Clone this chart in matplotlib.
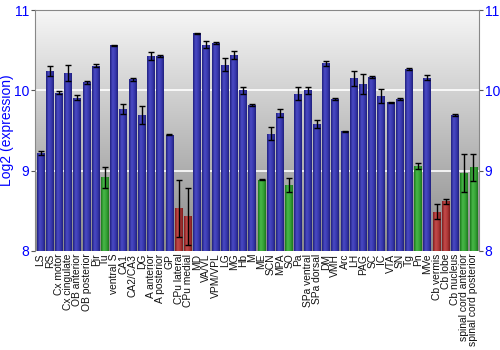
import numpy as np
import matplotlib
matplotlib.use("Agg")
import matplotlib.pyplot as plt
from matplotlib.colors import LinearSegmentedColormap

plt.rcParams['font.family'] = ['Liberation Sans', 'DejaVu Sans']

# Region labels, log2 expression, error and colour group
regions = ["LS", "RS", "Cx motor", "Cx cingulate", "OB anterior", "OB posterior", "Pir", "Tu",
           "ventral S", "CA1", "CA2/CA3", "DG", "A anterior", "A posterior", "GP",
           "CPu lateral", "CPu medial", "MD", "VA/VL", "VPM/VPL", "LG", "MG", "Hb", "M",
           "ME", "SCN", "MPA", "SO", "Pa", "SPa ventral", "SPa dorsal", "DM", "VMH", "Arc",
           "LH", "PAG", "SC", "IC", "VTA", "SN", "Tg", "Pn", "MVe", "Cb vermis", "Cb lobe",
           "Cb nucleus", "spinal cord anterior", "spinal cord posterior"]
values = [9.22, 10.24, 9.97, 10.22, 9.91, 10.10, 10.31, 8.92,
          10.56, 9.77, 10.14, 9.69, 10.43, 10.43, 9.45,
          8.53, 8.43, 10.71, 10.57, 10.59, 10.32, 10.44, 10.00, 9.82,
          8.89, 9.46, 9.72, 8.82, 9.96, 10.00, 9.58, 10.34, 9.89, 9.49,
          10.15, 10.08, 10.17, 9.93, 9.85, 9.89, 10.27, 9.06, 10.16, 8.49, 8.62,
          9.69, 8.97, 9.04]
errors = [0.03, 0.06, 0.02, 0.10, 0.03, 0.02, 0.02, 0.13,
          0.01, 0.06, 0.02, 0.11, 0.05, 0.01, 0.01,
          0.36, 0.35, 0.01, 0.04, 0.01, 0.08, 0.05, 0.045, 0.01,
          0.01, 0.08, 0.045, 0.09, 0.085, 0.04, 0.05, 0.03, 0.015, 0.01,
          0.09, 0.12, 0.015, 0.085, 0.01, 0.01, 0.015, 0.04, 0.035, 0.09, 0.03,
          0.01, 0.24, 0.17]
groups = ["b"] * 7 + ["g"] + ["b"] * 7 + ["r", "r"] + ["b"] * 7 + ["g", "b", "b", "g"] \
    + ["b"] * 13 + ["g", "b", "r", "r", "b", "g", "g"]

palettes = {
    "b": ["#20207e", "#4a4ac4", "#3a3ab0", "#20207e"],
    "g": ["#1c7a1c", "#48b848", "#38a438", "#1c7a1c"],
    "r": ["#7e1c1c", "#c44a4a", "#b03a3a", "#7e1c1c"],
}
cmaps = {k: LinearSegmentedColormap.from_list(k, v) for k, v in palettes.items()}

fig = plt.figure(figsize=(5, 3.5), dpi=100)
ax = fig.add_axes([0.07, 0.283, 0.888, 0.688])

x = np.arange(len(regions))
ax.set_xlim(-0.6, len(regions) - 0.4)
ax.set_ylim(8, 11)

# gray vertical background gradient
bg = np.linspace(0, 1, 256).reshape(-1, 1)
bg_cmap = LinearSegmentedColormap.from_list("bg", ["#f6f6f6", "#8a8a8a"])
ax.imshow(bg, extent=[0, 1, 0, 1], transform=ax.transAxes, cmap=bg_cmap,
          aspect="auto", zorder=0)

for yv in [9, 10]:
    ax.axhline(yv, color="white", lw=1.2, zorder=1)

width = 0.86
bars = ax.bar(x, np.array(values) - 8, bottom=8, width=width, color="none",
              edgecolor="none", zorder=2)
grad = np.linspace(0, 1, 64).reshape(1, -1)
for bar, grp in zip(bars, groups):
    x0 = bar.get_x()
    im = ax.imshow(grad, extent=[x0, x0 + bar.get_width(), 8, bar.get_y() + bar.get_height()],
                   cmap=cmaps[grp], aspect="auto", zorder=2)
    im.set_clip_path(bar)

ax.errorbar(x, values, yerr=errors, fmt="none", ecolor="black", elinewidth=1,
            capsize=2, capthick=1, zorder=3)

ax.set_xticks(x)
ax.set_xticklabels(regions, rotation=90, fontsize=7.4, color="#111111")
ax.tick_params(axis="x", length=0, pad=2)

ax.set_yticks([8, 9, 10, 11])
ax.tick_params(axis="y", colors="#555555", labelcolor="blue", labelsize=10, length=3,
               pad=1, right=True, labelright=True)
ax.set_ylabel("Log2 (expression)", color="blue", fontsize=10)
ax.yaxis.set_label_coords(-0.047, 0.5)

for side in ["left", "right", "top"]:
    ax.spines[side].set_color("#888888")
ax.spines["bottom"].set_visible(False)

fig.savefig("out.png", dpi=100)
